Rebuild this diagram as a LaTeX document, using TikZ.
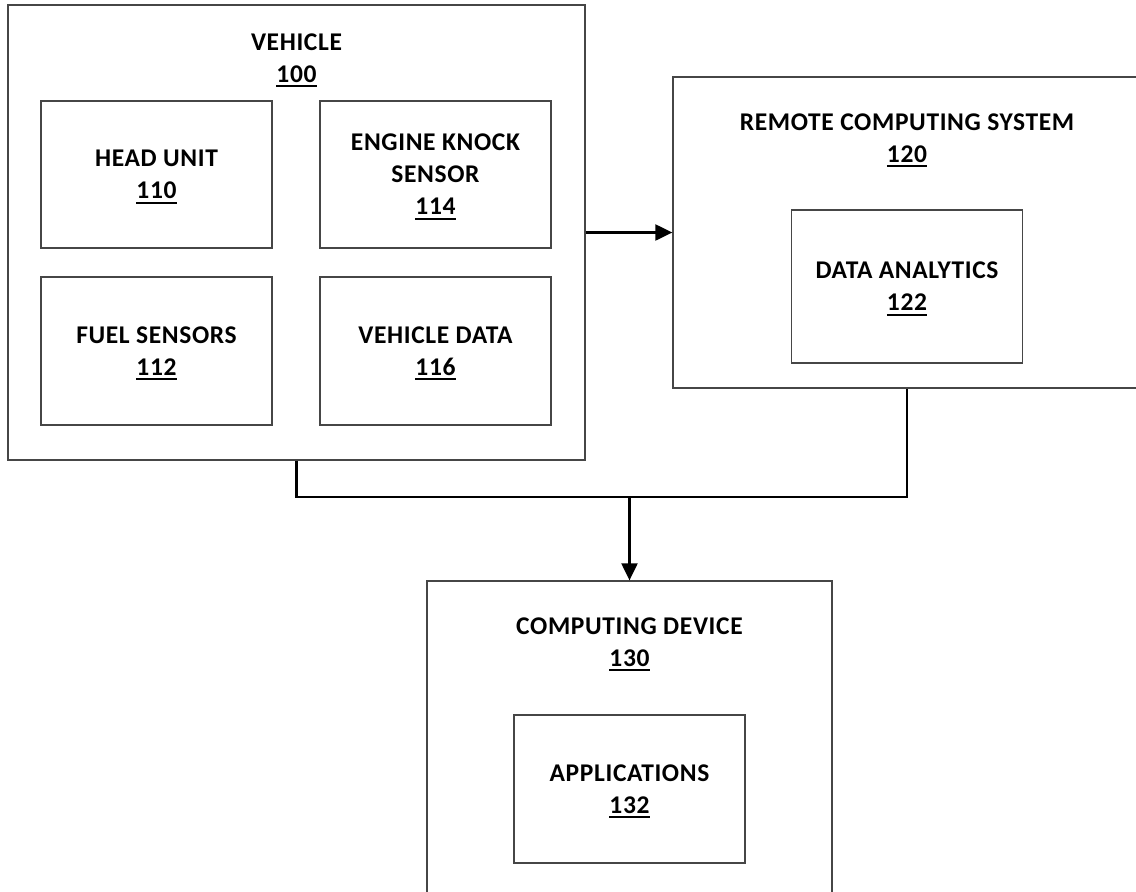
\documentclass[tikz,border=0pt]{standalone}
\usepackage{fontspec}
\setmainfont{Carlito}
\usetikzlibrary{arrows.meta, positioning}
\definecolor{boxgray}{RGB}{70, 70, 70}
\newsavebox{\numbox}
\newcommand{\labelfont}{\bfseries\fontsize{25.5}{32}\selectfont\addfontfeatures{LetterSpace=2.5}}
\newcommand{\refnum}[1]{\sbox{\numbox}{#1}\smash{\rlap{\rule[-5pt]{\wd\numbox}{2pt}}}\usebox{\numbox}}
\tikzset{
  outerbox/.style={draw=boxgray, line width=1.3pt, inner sep=0pt},
  innerbox/.style={draw=boxgray, line width=1.3pt, minimum width=231pt, minimum height=147pt, align=center, inner sep=0pt},
  boxtitle/.style={align=center, inner sep=0pt},
  link/.style={line width=2.2pt},
  linkarrow/.style={link, -{Triangle[length=17pt, width=16pt]}},
}

\begin{document}
\begin{tikzpicture}[x=1pt, y=-1pt, every node/.style={font=\labelfont}]
  \useasboundingbox (0,0) rectangle (1136,892);
  \clip (0,0) rectangle (1136,892);

  % vehicle and its parts
  \node[outerbox, minimum width=577pt, minimum height=455pt] (vehicle) at (296.5, 232.5) {};
  \node[boxtitle, below=29pt of vehicle.north] (vehicletitle) {VEHICLE\\\refnum{100}};
  \node[innerbox] (headunit) at (156.5, 174.5) {HEAD UNIT\\\refnum{110}};
  \node[innerbox] (knocksensor) at (435.5, 174.5) {ENGINE KNOCK\\SENSOR\\\refnum{114}};
  \node[innerbox, minimum height=148pt] (fuelsensors) at (156.5, 351) {FUEL SENSORS\\\refnum{112}};
  \node[innerbox, minimum height=148pt] (vehicledata) at (435.5, 351) {VEHICLE DATA\\\refnum{116}};

  % remote computing system
  \node[outerbox, minimum width=468pt, minimum height=311pt] (remote) at (907, 232.5) {};
  \node[boxtitle, below=37pt of remote.north] (remotetitle) {REMOTE COMPUTING SYSTEM\\\refnum{120}};
  \node[innerbox, minimum height=153pt] (analytics) at (907, 286.5) {DATA ANALYTICS\\\refnum{122}};

  % computing device
  \node[outerbox, minimum width=405pt, minimum height=340pt] (device) at (629.5, 751) {};
  \node[boxtitle, below=37pt of device.north] (devicetitle) {COMPUTING DEVICE\\\refnum{130}};
  \node[innerbox, minimum height=148pt] (apps) at (629.5, 789) {APPLICATIONS\\\refnum{132}};

  % connectors
  \coordinate (merge) at (629.5, 497);
  \draw[linkarrow] (vehicle.east) -- (remote.west);
  \draw[link] (vehicle.south) |- (merge) -| (remote.south);
  \draw[linkarrow] (merge) -- (device.north);
\end{tikzpicture}
\end{document}
